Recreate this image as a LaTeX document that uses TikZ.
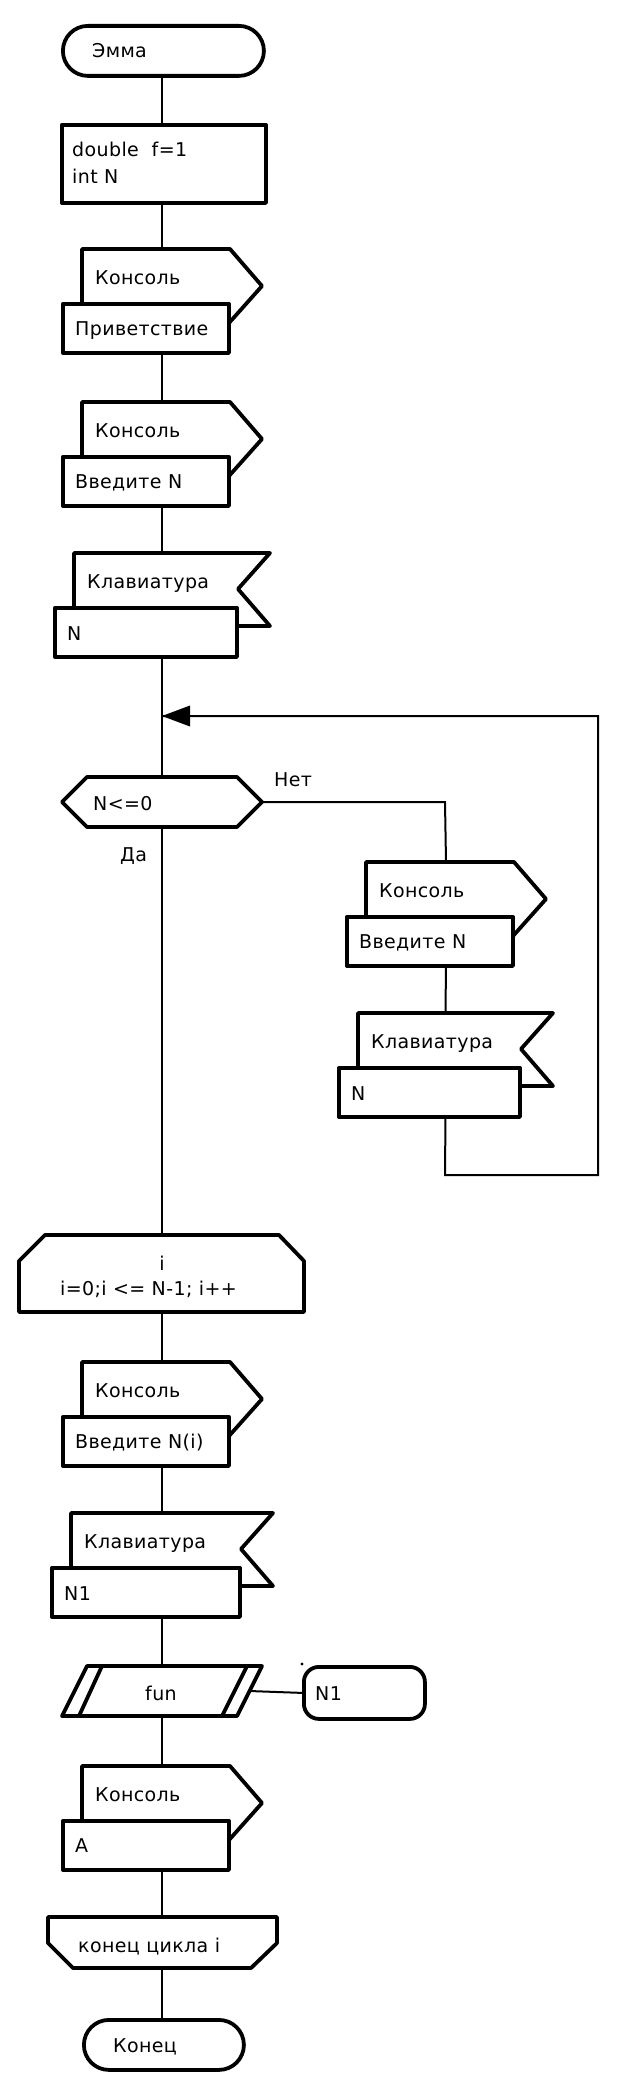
\documentclass[tikz,border=0pt]{standalone}
\usepackage{fontspec}
\setmainfont[LetterSpace=2]{DejaVu Sans}
\usetikzlibrary{arrows.meta}
\tikzset{
  shp/.style={draw=black, line width=3.8pt, fill=white, line join=round},
  pbox/.style={shp, rectangle, inner sep=0pt, anchor=north west},
  term/.style={shp, rectangle, inner sep=0pt, anchor=north west, rounded corners=#1},
  flow/.style={draw=black, line width=2pt},
  txt/.style={inner sep=0pt, anchor=base west, font=\fontsize{19}{23}\selectfont},
}
% console block: name, L (box left), T (top), upper text, lower text
\newcommand{\conblk}[5]{%
  \draw[shp] ({#2+21},{#3+60}) -- ({#2+21},{#3}) -- ({#2+169},{#3}) -- ({#2+201},{#3+37}) -- ({#2+168},{#3+74});
  \node[pbox, minimum width=166pt, minimum height=49pt] (#1) at ({#2},{#3+53}) {};
  \node[txt] (#1-a) at ({#2+34},{#3+35}) {#4};
  \node[txt] (#1-b) at ({#2+14},{#3+86}) {#5};
  \coordinate (#1-in) at ({#2+101},{#3});
  \coordinate (#1-out) at ({#2+101},{#3+102});
}
% keyboard block: name, L, T, box width, upper text, lower text
\newcommand{\kbdblk}[6]{%
  \draw[shp] ({#2+21},{#3+60}) -- ({#2+21},{#3}) -- ({#2+#4+35},{#3}) -- ({#2+#4+3},{#3+36}) -- ({#2+#4+35},{#3+73}) -- ({#2+#4-2},{#3+73});
  \node[pbox, minimum width=#4pt, minimum height=49pt] (#1) at ({#2},{#3+53}) {};
  \node[txt] (#1-a) at ({#2+34},{#3+35}) {#5};
  \node[txt] (#1-b) at ({#2+14},{#3+87}) {#6};
  \coordinate (#1-in) at ({#2+#4/2+18},{#3});
  \coordinate (#1-out) at ({#2+#4/2+18},{#3+102});
}
\begin{document}
\begin{tikzpicture}[x=1pt,y=-1pt]
\useasboundingbox[fill=white] (0,0) rectangle (628,2092);

% start
\node[term=25pt, minimum width=201pt, minimum height=50pt] (start) at (61,24) {};
\node[txt] (tstart) at (92,58) {Эмма};

% declarations
\node[pbox, minimum width=204pt, minimum height=78pt] (decl) at (60,123) {};
\node[txt] (tdecl1) at (72,157) {double\ \ f=1};
\node[txt] (tdecl2) at (72,184) {int N};

\conblk{c1}{61}{249}{Консоль}{Приветствие}
\conblk{c2}{61}{402}{Консоль}{Введите N}
\kbdblk{k1}{53}{553}{182}{Клавиатура}{N}

% decision
\draw[shp] (62,802) -- (87,777) -- (237,777) -- (262,802) -- (237,827) -- (87,827) -- cycle;
\coordinate (dtop) at (162,777);
\coordinate (dbot) at (162,827);
\coordinate (dright) at (262,802);
\node[txt] (tdec) at (93,810) {N<=0};
\node[txt] (tno) at (274,786) {Нет};
\node[txt] (tyes) at (120,861) {Да};

\conblk{c3}{345}{862}{Консоль}{Введите N}
\kbdblk{k2}{337}{1013}{181}{Клавиатура}{N}

% loop start
\draw[shp] (19,1261) -- (45,1235) -- (279,1235) -- (304,1261) -- (304,1312) -- (19,1312) -- cycle;
\coordinate (lstop) at (162,1235);
\coordinate (lsbot) at (162,1312);
\node[txt, anchor=base] (tls1) at (162,1270) {i};
\node[txt] (tls2) at (60,1295) {i=0;i <= N-1; i++};

\conblk{c4}{61}{1362}{Консоль}{Введите N(i)}
\kbdblk{k3}{50}{1513}{188}{Клавиатура}{N1}

% predefined process
\draw[shp] (87,1666) -- (262,1666) -- (237,1716) -- (62,1716) -- cycle;
\draw[shp] (102,1666) -- (79,1716);
\draw[shp] (247,1666) -- (222,1716);
\coordinate (ftop) at (162,1666);
\coordinate (fbot) at (162,1716);
\coordinate (fright) at (249.5,1691);
\node[txt, anchor=base] (tfun) at (161,1700) {fun};

\node[term=15pt, minimum width=121pt, minimum height=52pt] (n1) at (302,1665) {};
\node[txt] (tn1) at (315,1700) {N1};
\fill (302,1664) circle (1.6pt);

\conblk{c5}{61}{1766}{Консоль}{A}

% loop end
\draw[shp] (48,1917) -- (277,1917) -- (277,1943) -- (251,1968) -- (73,1968) -- (48,1943) -- cycle;
\coordinate (letop) at (162,1917);
\coordinate (lebot) at (162,1968);
\node[txt] (tle) at (78,1952) {конец цикла i};

% end
\node[term=25pt, minimum width=160pt, minimum height=50pt] (fin) at (82,2018) {};
\node[txt] (tfin) at (113,2052) {Конец};

% connectors
\coordinate (merge) at (162,716);
\coordinate (rloop1) at (445,1175);
\coordinate (rloop2) at (598,1175);
\coordinate (rloop3) at (598,716);
\coordinate (nocorner) at (445,802);
\draw[flow] (start.south -| merge) -- (decl.north -| merge);
\draw[flow] (decl.south -| merge) -- (c1-in);
\draw[flow] (c1-out) -- (c2-in);
\draw[flow] (c2-out) -- (k1-in);
\draw[flow] (k1-out) -- (dtop);
\draw[flow] (dbot) -- (lstop);
\draw[flow] (dright) -- (nocorner) -- (c3-in);
\draw[flow] (c3-out) -- (k2-in);
\draw[flow] (k2-out) -- (rloop1) -- (rloop2) -- (rloop3) -- (merge);
\fill (merge) -- (190,705.5) -- (190,726.5) -- cycle;
\draw[flow] (lsbot) -- (c4-in);
\draw[flow] (c4-out) -- (k3-in);
\draw[flow] (k3-out) -- (ftop);
\draw[flow] (fbot) -- (c5-in);
\draw[flow] (fright) -- (n1.west);
\draw[flow] (c5-out) -- (letop);
\draw[flow] (lebot) -- (fin.north -| lebot);
\end{tikzpicture}
\end{document}
